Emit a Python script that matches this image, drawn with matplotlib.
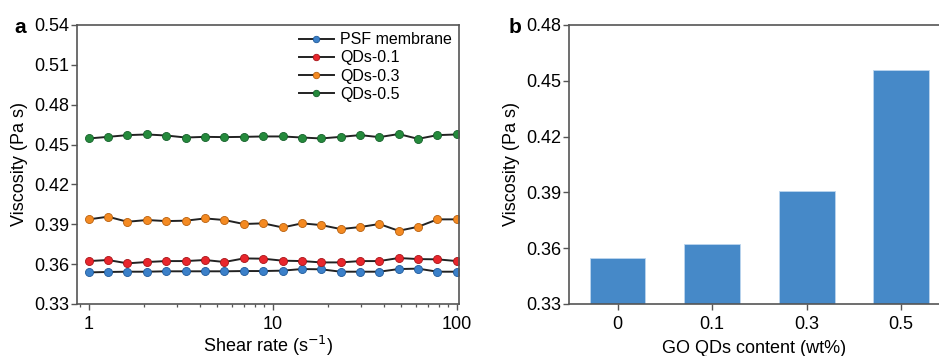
import numpy as np
import matplotlib
matplotlib.use('Agg')
import matplotlib.pyplot as plt
from matplotlib.ticker import FixedLocator, NullFormatter, FixedFormatter

plt.rcParams['font.family'] = ['Liberation Sans', 'DejaVu Sans']

# panel a: viscosity vs shear rate
shear_rate = [1, 1.27, 1.62, 2.07, 2.64, 3.36, 4.28, 5.46, 6.95, 8.86,
              11.3, 14.4, 18.3, 23.4, 29.8, 37.9, 48.3, 61.6, 78.5, 100]
psf = [0.3538, 0.3541, 0.3543, 0.3543, 0.3546, 0.3546, 0.3546, 0.3546, 0.3548, 0.3548,
       0.3551, 0.3563, 0.3561, 0.3543, 0.3543, 0.3543, 0.3563, 0.3566, 0.3543, 0.3543]
qd01 = [0.3623, 0.3631, 0.3606, 0.3616, 0.3623, 0.3623, 0.3631, 0.3616, 0.3643, 0.3641,
        0.3626, 0.3623, 0.3613, 0.3613, 0.3623, 0.3623, 0.3646, 0.3638, 0.3636, 0.3623]
qd03 = [0.3937, 0.3957, 0.3919, 0.3932, 0.3924, 0.3927, 0.3944, 0.3932, 0.3902, 0.3907,
        0.3876, 0.3907, 0.3894, 0.3864, 0.3879, 0.3902, 0.3851, 0.3881, 0.3937, 0.3937]
qd05 = [0.4546, 0.4558, 0.4571, 0.4576, 0.4568, 0.4553, 0.4558, 0.4556, 0.4558, 0.4561,
        0.4561, 0.4553, 0.4546, 0.4558, 0.4571, 0.4556, 0.4579, 0.4543, 0.4571, 0.4576]
series_names = ['PSF membrane', 'QDs-0.1', 'QDs-0.3', 'QDs-0.5']
series_colors = ['#3b80c9', '#e8262c', '#f48a22', '#258a3c']
edge_colors = ['#1f5a9a', '#a81418', '#b8600e', '#15602a']

# panel b: viscosity vs GO QDs content
content = ['0', '0.1', '0.3', '0.5']
visc = [0.3549, 0.3621, 0.3908, 0.4558]

fig = plt.figure(figsize=(9.39, 3.56), dpi=100)
ax1 = fig.add_axes([0.0823, 0.1461, 0.4067, 0.7837])
ax2 = fig.add_axes([0.6063, 0.1461, 0.3937, 0.7837])

fs = 13
spine_col = '#555555'

for ys, name, c, ec in zip([psf, qd01, qd03, qd05], series_names, series_colors, edge_colors):
    ax1.plot(shear_rate, ys, '-', color='#222222', lw=1.4, marker='o', ms=5.8,
             mfc=c, mec=ec, mew=0.6, label=name)
ax1.set_xscale('log')
ax1.set_xlim(0.865, 103)
ax1.set_ylim(0.33, 0.54)
ax1.set_yticks(np.arange(0.33, 0.541, 0.03))
ax1.set_yticklabels(['%.2f' % v for v in np.arange(0.33, 0.541, 0.03)])
ax1.xaxis.set_major_locator(FixedLocator([1, 10, 100]))
ax1.xaxis.set_major_formatter(FixedFormatter(['1', '10', '100']))
ax1.xaxis.set_minor_formatter(NullFormatter())
ax1.set_xlabel('Shear rate (s$^{-1}$)', fontsize=fs, labelpad=0)
ax1.set_ylabel('Viscosity (Pa s)', fontsize=fs, labelpad=4)
leg = ax1.legend(loc='upper right', frameon=False, fontsize=11.5, handlelength=2.2,
                 handletextpad=0.4, labelspacing=0.2, borderaxespad=0.05, markerscale=0.8)
ax1.text(-0.165, 0.99, 'a', transform=ax1.transAxes, fontsize=15, fontweight='bold',
         ha='left', va='center')

x = np.arange(len(content))
ax2.bar(x, visc, width=0.59, bottom=0, color='#4689c8', edgecolor='#bcd6ee', linewidth=0.6)
ax2.set_xlim(-0.51, 3.40)
ax2.set_ylim(0.33, 0.48)
ax2.set_yticks(np.arange(0.33, 0.481, 0.03))
ax2.set_yticklabels(['%.2f' % v for v in np.arange(0.33, 0.481, 0.03)])
ax2.set_xticks(x)
ax2.set_xticklabels(content)
ax2.set_xlabel('GO QDs content (wt%)', fontsize=fs, labelpad=5)
ax2.set_ylabel('Viscosity (Pa s)', fontsize=fs, labelpad=4)
ax2.spines['right'].set_visible(False)
ax2.text(-0.165, 0.99, 'b', transform=ax2.transAxes, fontsize=15, fontweight='bold',
         ha='left', va='center')

for ax in (ax1, ax2):
    for s in ax.spines.values():
        s.set_color(spine_col)
        s.set_linewidth(1.2)
    ax.tick_params(which='major', direction='out', length=4, width=1, color=spine_col,
                   labelsize=fs, pad=2)
    ax.tick_params(which='minor', direction='out', length=2.5, width=0.9, color=spine_col)
    ax.tick_params(axis='x', which='major', pad=5)

fig.savefig('out.png', dpi=100)
